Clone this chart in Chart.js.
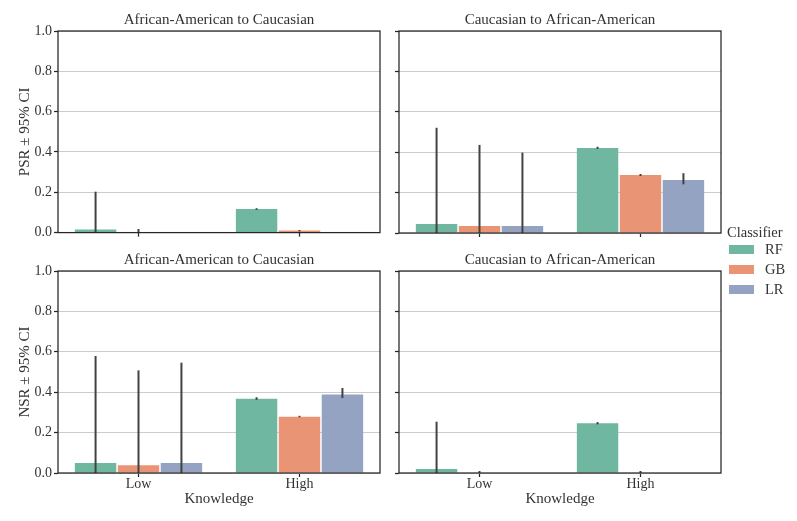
<!DOCTYPE html>
<html lang="en">
<head>
<meta charset="UTF-8">
<title>PSR / NSR by Knowledge</title>
<script src="https://cdn.jsdelivr.net/npm/chart.js@4"></script>
<style>
  body { margin: 0; background: #fff; width: 797px; height: 521px; position: relative; overflow: hidden;
         font-family: "Liberation Serif", serif; color: #333; }
  canvas { position: absolute; }
  .leg { position: absolute; font-size: 14.5px; line-height: 16px; white-space: nowrap; }
  .patch { position: absolute; width: 25px; height: 9px; }
</style>
</head>
<body>

<canvas id="c1" width="390" height="243" style="left:0;top:0"></canvas>
<canvas id="c2" width="340" height="243" style="left:390px;top:0"></canvas>
<canvas id="c3" width="390" height="281" style="left:0;top:240px"></canvas>
<canvas id="c4" width="340" height="281" style="left:390px;top:240px"></canvas>

<!-- Legend -->
<div class="leg" style="left:727px;top:224px">Classifier</div>
<div class="patch" style="left:729px;top:245px;background:#70b7a1"></div>
<div class="leg" style="left:765px;top:241px">RF</div>
<div class="patch" style="left:729px;top:265px;background:#e99575"></div>
<div class="leg" style="left:765px;top:261px">GB</div>
<div class="patch" style="left:729px;top:285px;background:#95a3c3"></div>
<div class="leg" style="left:765px;top:281px">LR</div>

<script>
    const categories = ['Low', 'High'];
    const classifiers = ['RF', 'GB', 'LR'];
    const colors = ['#70b7a1', '#e99575', '#95a3c3'];
    const yTicks = [0, 0.2, 0.4, 0.6, 0.8, 1.0];

    // PSR, African-American to Caucasian
    const psrAaCaRF = [0.015, 0.117];
    const psrAaCaGB = [0.0, 0.01];
    const psrAaCaLR = [0.0, 0.0];
    const psrAaCaRFci = [[0, 0.203], [0.113, 0.121]];
    const psrAaCaGBci = [[0, 0.018], [0.006, 0.013]];
    const psrAaCaLRci = [null, null];

    // PSR, Caucasian to African-American
    const psrCaAaRF = [0.045, 0.421];
    const psrCaAaGB = [0.035, 0.287];
    const psrCaAaLR = [0.035, 0.262];
    const psrCaAaRFci = [[0, 0.521], [0.416, 0.427]];
    const psrCaAaGBci = [[0, 0.436], [0.282, 0.292]];
    const psrCaAaLRci = [[0, 0.398], [0.241, 0.296]];

    // NSR, African-American to Caucasian
    const nsrAaCaRF = [0.05, 0.368];
    const nsrAaCaGB = [0.038, 0.279];
    const nsrAaCaLR = [0.05, 0.388];
    const nsrAaCaRFci = [[0, 0.579], [0.362, 0.375]];
    const nsrAaCaGBci = [[0, 0.508], [0.276, 0.283]];
    const nsrAaCaLRci = [[0, 0.546], [0.371, 0.421]];

    // NSR, Caucasian to African-American
    const nsrCaAaRF = [0.02, 0.246];
    const nsrCaAaGB = [0.0, 0.0];
    const nsrCaAaLR = [0.0, 0.0];
    const nsrCaAaRFci = [[0, 0.254], [0.241, 0.252]];
    const nsrCaAaGBci = [[0, 0.01], [0, 0.01]];
    const nsrCaAaLRci = [null, null];

    const FONT = '"Liberation Serif", serif';
    const DARK = '#262626';
    const TEXT = '#333333';

    // vertical CI lines, placed with the chart's own scales
    const errorBars = {
        id: 'errorBars',
        afterDatasetsDraw(chart) {
            const ctx = chart.ctx;
            const y = chart.scales.y;
            ctx.save();
            ctx.strokeStyle = '#424242';
            ctx.lineWidth = 2;
            chart.data.datasets.forEach((ds, i) => {
                const meta = chart.getDatasetMeta(i);
                ds.ci.forEach((ci, j) => {
                    if (!ci) return;
                    const bar = meta.data[j];
                    ctx.beginPath();
                    ctx.moveTo(bar.x, y.getPixelForValue(ci[0]));
                    ctx.lineTo(bar.x, y.getPixelForValue(ci[1]));
                    ctx.stroke();
                });
            });
            ctx.restore();
        }
    };

    // box around plot area + panel title centred on the plot area
    const frame = {
        id: 'frame',
        afterDatasetsDraw(chart, args, opts) {
            const a = chart.chartArea;
            const ctx = chart.ctx;
            ctx.save();
            ctx.strokeStyle = DARK;
            ctx.lineWidth = 1.25;
            ctx.strokeRect(a.left, a.top, a.right - a.left, a.bottom - a.top);
            ctx.fillStyle = TEXT;
            ctx.font = '15px ' + FONT;
            ctx.textAlign = 'center';
            ctx.textBaseline = 'middle';
            ctx.fillText(opts.text, (a.left + a.right) / 2, 20);
            ctx.restore();
        }
    };

    function makeChart(id, title, yTitle, series, cis, opts) {
        const datasets = classifiers.map((name, k) => ({
            label: name,
            data: series[k],
            ci: cis[k],
            backgroundColor: colors[k],
            borderWidth: 0,
            categoryPercentage: 0.8,
            barPercentage: 0.965
        }));
        new Chart(document.getElementById(id), {
            type: 'bar',
            data: { labels: categories, datasets: datasets },
            plugins: [errorBars, frame],
            options: {
                responsive: false,
                animation: false,
                layout: { padding: { left: 0, right: opts.padRight, top: 31, bottom: 0 } },
                plugins: {
                    legend: { display: false },
                    tooltip: { enabled: false },
                    title: { display: false },
                    frame: { text: title }
                },
                scales: {
                    x: {
                        grid: { display: true, drawOnChartArea: false, offset: false,
                                tickLength: 4, tickColor: DARK, tickWidth: 1.25 },
                        border: { display: false },
                        ticks: { display: opts.showX, color: TEXT, padding: -1,
                                 font: { family: FONT, size: 14 } },
                        title: { display: opts.showX, text: 'Knowledge', color: TEXT,
                                 font: { family: FONT, size: 15 }, padding: { top: 0, bottom: 13 } },
                        afterFit(s) { s.height = opts.xHeight; }
                    },
                    y: {
                        min: 0, max: 1,
                        afterBuildTicks(s) { s.ticks = yTicks.map(v => ({ value: v })); },
                        grid: { color: '#cccccc', lineWidth: 1, tickColor: DARK, tickLength: 4, tickWidth: 1.25 },
                        border: { display: false },
                        ticks: { display: opts.showY, color: TEXT, padding: 2,
                                 font: { family: FONT, size: 14 },
                                 callback: v => Number(v).toFixed(1) },
                        title: { display: !!yTitle, text: yTitle, color: TEXT,
                                 font: { family: FONT, size: 15 }, padding: { top: 16, bottom: 0 } },
                        afterFit(s) { s.width = opts.yWidth; }
                    }
                }
            }
        });
    }

    makeChart('c1', 'African-American to Caucasian', 'PSR \u00b1 95% CI',
        [psrAaCaRF, psrAaCaGB, psrAaCaLR], [psrAaCaRFci, psrAaCaGBci, psrAaCaLRci],
        { padRight: 10, yWidth: 58, xHeight: 10, showX: false, showY: true });
    makeChart('c2', 'Caucasian to African-American', '',
        [psrCaAaRF, psrCaAaGB, psrCaAaLR], [psrCaAaRFci, psrCaAaGBci, psrCaAaLRci],
        { padRight: 9, yWidth: 9, xHeight: 10, showX: false, showY: false });
    makeChart('c3', 'African-American to Caucasian', 'NSR \u00b1 95% CI',
        [nsrAaCaRF, nsrAaCaGB, nsrAaCaLR], [nsrAaCaRFci, nsrAaCaGBci, nsrAaCaLRci],
        { padRight: 10, yWidth: 58, xHeight: 48, showX: true, showY: true });
    makeChart('c4', 'Caucasian to African-American', '',
        [nsrCaAaRF, nsrCaAaGB, nsrCaAaLR], [nsrCaAaRFci, nsrCaAaGBci, nsrCaAaLRci],
        { padRight: 9, yWidth: 9, xHeight: 48, showX: true, showY: false });
</script>

</body>
</html>
